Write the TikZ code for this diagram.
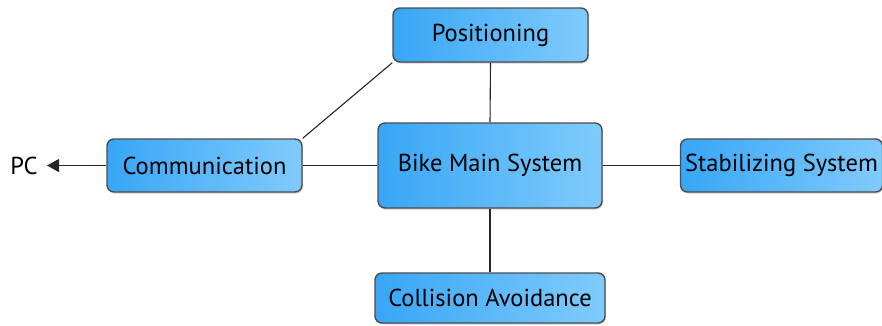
\documentclass[tikz,border=0pt]{standalone}
\usepackage{fontspec}
\setmainfont{PT Sans}
\usetikzlibrary{shadows,arrows.meta}
\begin{document}
\begin{tikzpicture}[x=1pt,y=1pt,
  box/.style={draw=black!70, line width=1.4pt, rounded corners=7pt,
    left color=boxL, right color=boxR, inner sep=0pt,
    font=\fontsize{24.5}{28}\selectfont, text=black,
    drop shadow={shadow xshift=1pt, shadow yshift=-1.5pt, opacity=0.35}},
  link/.style={draw=black!85, line width=1.1pt}]
\definecolor{boxL}{HTML}{38A6F6}
\definecolor{boxR}{HTML}{80CBFC}
\useasboundingbox (0,0) rectangle (882,325);
\node[box, minimum width=195pt, minimum height=54pt] (pos) at (490.5,290) {Positioning};
\node[box, minimum width=224pt, minimum height=85pt] (main) at (490,159.5) {Bike Main System};
\node[box, minimum width=195pt, minimum height=53pt] (comm) at (204.5,159.5) {Communication};
\node[box, minimum width=202pt, minimum height=53pt] (stab) at (781.5,159.5) {Stabilizing System};
\node[box, minimum width=230pt, minimum height=50pt] (coll) at (490,27) {Collision Avoidance};
\node[font=\fontsize{24.5}{28}\selectfont, inner sep=0pt] (pc) at (24,159.5) {PC};
\coordinate (pctip) at (47,159.5);
\draw[link, -{Triangle[length=12pt,width=13pt]}] (comm.west) -- (pctip);
\draw[link] (comm.north east) -- (pos.south west);
\draw[link] (comm.east) -- (main.west);
\draw[link] (main.east) -- (stab.west);
\draw[link] (main.north) -- (pos.south);
\draw[link] (main.south) -- (coll.north);
\end{tikzpicture}
\end{document}
